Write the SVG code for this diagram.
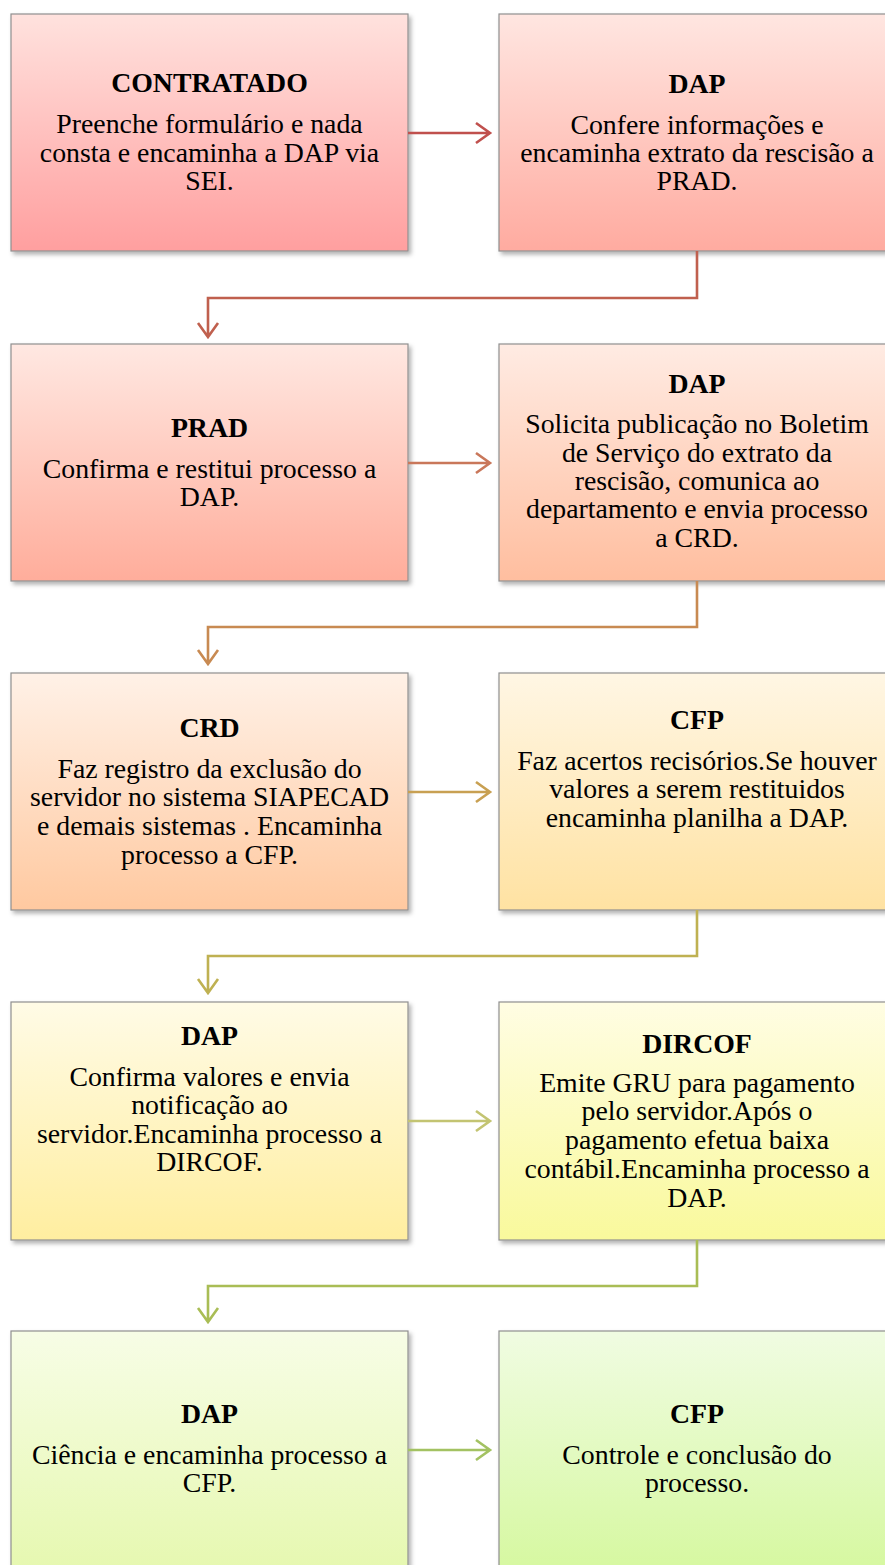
<svg xmlns="http://www.w3.org/2000/svg" width="885" height="1565" viewBox="0 0 885 1565">
<style>
.box{stroke:#8f8f8f;stroke-width:1.2;filter:url(#sh)}
.t{font-family:"Liberation Serif","Times New Roman",serif;font-size:27.8px;fill:#000;text-anchor:middle}
.b{font-weight:bold}
.c{fill:none;stroke-width:2.6;stroke-linejoin:miter}
</style>
<defs>
<filter id="sh" x="-5%" y="-5%" width="115%" height="115%">
<feDropShadow dx="2.5" dy="3" stdDeviation="2" flood-color="#000" flood-opacity="0.3"/>
</filter>
<linearGradient id="g1" x1="0" y1="0" x2="0" y2="1"><stop offset="0" stop-color="#ffe2de"/><stop offset="1" stop-color="#ff9f9f"/></linearGradient>
<linearGradient id="g2" x1="0" y1="0" x2="0" y2="1"><stop offset="0" stop-color="#ffe6e1"/><stop offset="1" stop-color="#ffaba0"/></linearGradient>
<linearGradient id="g3" x1="0" y1="0" x2="0" y2="1"><stop offset="0" stop-color="#ffe8e2"/><stop offset="1" stop-color="#ffad9b"/></linearGradient>
<linearGradient id="g4" x1="0" y1="0" x2="0" y2="1"><stop offset="0" stop-color="#ffebe3"/><stop offset="1" stop-color="#ffbe9f"/></linearGradient>
<linearGradient id="g5" x1="0" y1="0" x2="0" y2="1"><stop offset="0" stop-color="#fff1e7"/><stop offset="1" stop-color="#ffc9a0"/></linearGradient>
<linearGradient id="g6" x1="0" y1="0" x2="0" y2="1"><stop offset="0" stop-color="#fff6e4"/><stop offset="1" stop-color="#ffe2a2"/></linearGradient>
<linearGradient id="g7" x1="0" y1="0" x2="0" y2="1"><stop offset="0" stop-color="#fffbe6"/><stop offset="1" stop-color="#ffeea0"/></linearGradient>
<linearGradient id="g8" x1="0" y1="0" x2="0" y2="1"><stop offset="0" stop-color="#fffde3"/><stop offset="1" stop-color="#f9f99c"/></linearGradient>
<linearGradient id="g9" x1="0" y1="0" x2="0" y2="1"><stop offset="0" stop-color="#f7fde6"/><stop offset="1" stop-color="#e6f8b0"/></linearGradient>
<linearGradient id="g10" x1="0" y1="0" x2="0" y2="1"><stop offset="0" stop-color="#f0fce2"/><stop offset="1" stop-color="#d6f8a0"/></linearGradient>
</defs>

<g id="n1">
<rect class="box" x="11" y="14" width="397" height="237" fill="url(#g1)"/>
<text class="t b" x="209.5" y="92">CONTRATADO</text>
<text class="t" x="209.5" y="133">Preenche formulário e nada</text>
<text class="t" x="209.5" y="162">consta e encaminha a DAP via</text>
<text class="t" x="209.5" y="190">SEI.</text>
</g>
<g id="n2">
<rect class="box" x="499" y="14" width="397" height="237" fill="url(#g2)"/>
<text class="t b" x="697" y="93">DAP</text>
<text class="t" x="697" y="134">Confere informações e</text>
<text class="t" x="697" y="162">encaminha extrato da rescisão a</text>
<text class="t" x="697" y="190">PRAD.</text>
</g>
<g id="n3">
<rect class="box" x="11" y="344" width="397" height="237" fill="url(#g3)"/>
<text class="t b" x="209.5" y="437">PRAD</text>
<text class="t" x="209.5" y="478">Confirma e restitui processo a</text>
<text class="t" x="209.5" y="506">DAP.</text>
</g>
<g id="n4">
<rect class="box" x="499" y="344" width="397" height="237" fill="url(#g4)"/>
<text class="t b" x="697" y="393">DAP</text>
<text class="t" x="697" y="433">Solicita publicação no Boletim</text>
<text class="t" x="697" y="462">de Serviço do extrato da</text>
<text class="t" x="697" y="490">rescisão, comunica ao</text>
<text class="t" x="697" y="518">departamento e envia processo</text>
<text class="t" x="697" y="547">a CRD.</text>
</g>
<g id="n5">
<rect class="box" x="11" y="673" width="397" height="237" fill="url(#g5)"/>
<text class="t b" x="209.5" y="737">CRD</text>
<text class="t" x="209.5" y="778">Faz registro da exclusão do</text>
<text class="t" x="209.5" y="806">servidor no sistema SIAPECAD</text>
<text class="t" x="209.5" y="835">e demais sistemas . Encaminha</text>
<text class="t" x="209.5" y="864">processo a CFP.</text>
</g>
<g id="n6">
<rect class="box" x="499" y="673" width="397" height="237" fill="url(#g6)"/>
<text class="t b" x="697" y="729">CFP</text>
<text class="t" x="697" y="770">Faz acertos recisórios.Se houver</text>
<text class="t" x="697" y="798">valores a serem restituidos</text>
<text class="t" x="697" y="827">encaminha planilha a DAP.</text>
</g>
<g id="n7">
<rect class="box" x="11" y="1002" width="397" height="238" fill="url(#g7)"/>
<text class="t b" x="209.5" y="1045">DAP</text>
<text class="t" x="209.5" y="1086">Confirma valores e envia</text>
<text class="t" x="209.5" y="1114">notificação ao</text>
<text class="t" x="209.5" y="1143">servidor.Encaminha processo a</text>
<text class="t" x="209.5" y="1171">DIRCOF.</text>
</g>
<g id="n8">
<rect class="box" x="499" y="1002" width="397" height="238" fill="url(#g8)"/>
<text class="t b" x="697" y="1053">DIRCOF</text>
<text class="t" x="697" y="1092">Emite GRU para pagamento</text>
<text class="t" x="697" y="1120">pelo servidor.Após o</text>
<text class="t" x="697" y="1149">pagamento efetua baixa</text>
<text class="t" x="697" y="1178">contábil.Encaminha processo a</text>
<text class="t" x="697" y="1207">DAP.</text>
</g>
<g id="n9">
<rect class="box" x="11" y="1331" width="397" height="240" fill="url(#g9)"/>
<text class="t b" x="209.5" y="1423">DAP</text>
<text class="t" x="209.5" y="1464">Ciência e encaminha processo a</text>
<text class="t" x="209.5" y="1492">CFP.</text>
</g>
<g id="n10">
<rect class="box" x="499" y="1331" width="397" height="240" fill="url(#g10)"/>
<text class="t b" x="697" y="1423">CFP</text>
<text class="t" x="697" y="1464">Controle e conclusão do</text>
<text class="t" x="697" y="1492">processo.</text>
</g>

<g id="connectors">
<path class="c" stroke="#c0504d" d="M408,133 H490 M476,123 L490,133 L476,143"/>
<path class="c" stroke="#c0604e" d="M697,251 V298 H208 V337 M198,323 L208,337 L218,323"/>
<path class="c" stroke="#c9775a" d="M408,463 H490 M476,453 L490,463 L476,473"/>
<path class="c" stroke="#c88a52" d="M697,581 V627 H208 V664 M198,650 L208,664 L218,650"/>
<path class="c" stroke="#c8a052" d="M408,792 H490 M476,782 L490,792 L476,802"/>
<path class="c" stroke="#bfb152" d="M697,910 V956 H208 V993 M198,979 L208,993 L218,979"/>
<path class="c" stroke="#c3c472" d="M408,1121 H490 M476,1111 L490,1121 L476,1131"/>
<path class="c" stroke="#a9bd55" d="M697,1240 V1286 H208 V1322 M198,1308 L208,1322 L218,1308"/>
<path class="c" stroke="#a3c262" d="M408,1450 H490 M476,1440 L490,1450 L476,1460"/>
</g>
</svg>
